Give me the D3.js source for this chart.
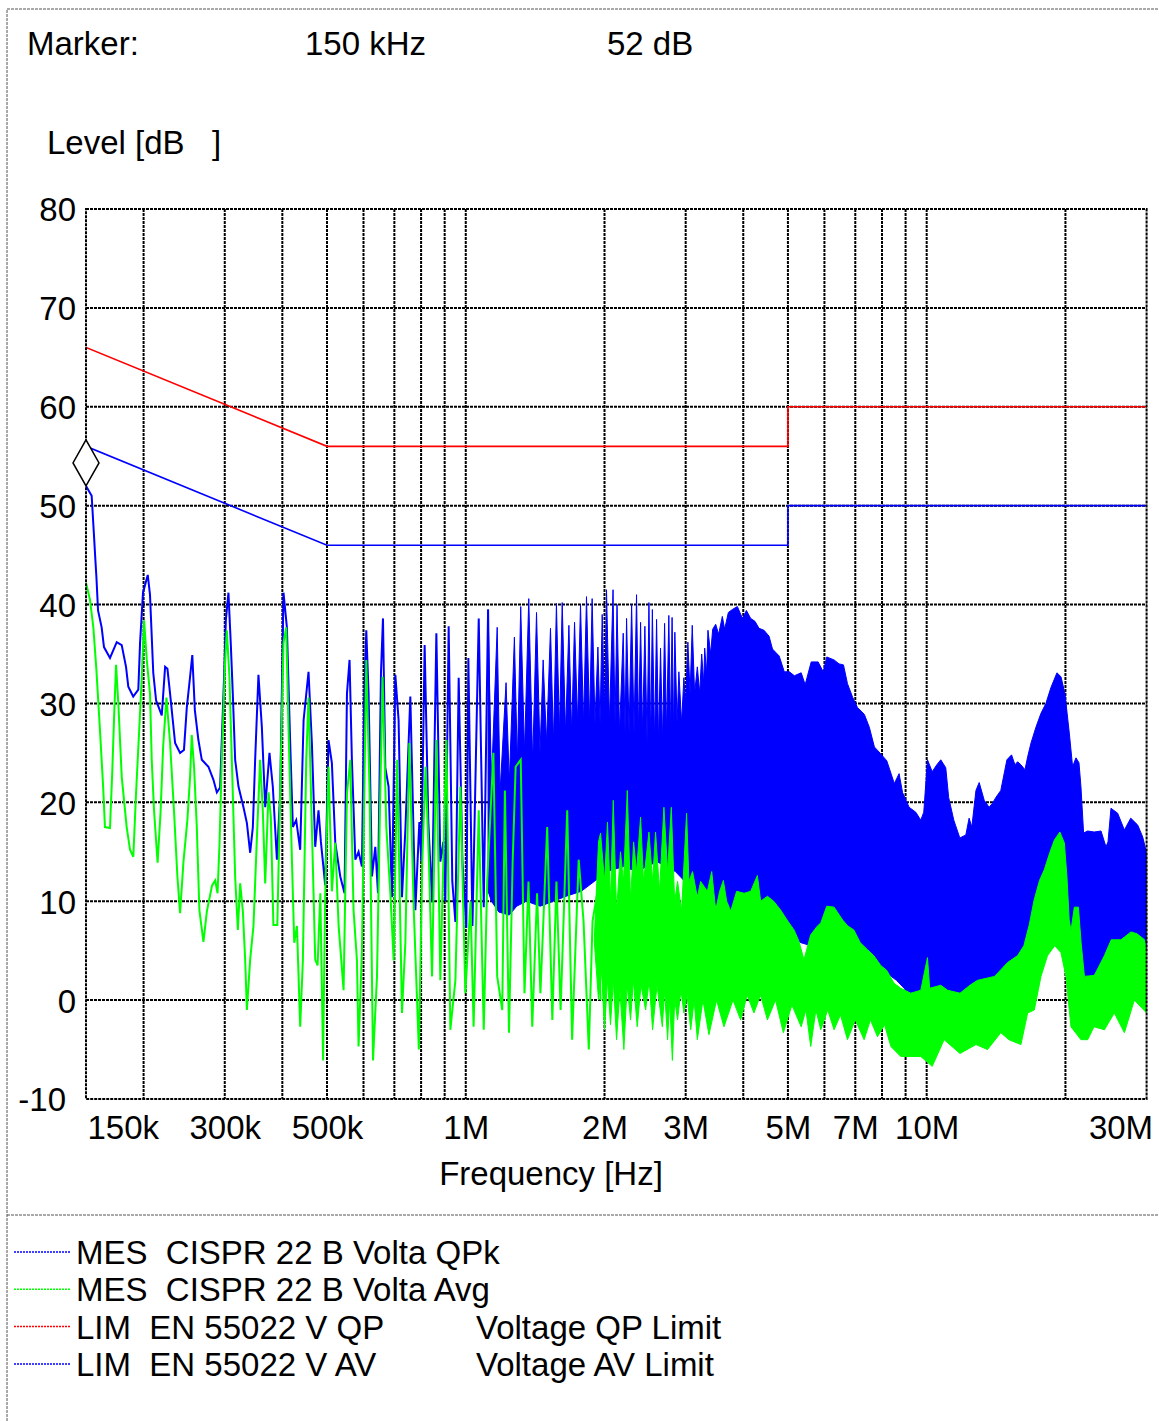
<!DOCTYPE html>
<html>
<head>
<meta charset="utf-8">
<script src="https://cdn.jsdelivr.net/npm/d3@7"></script>
<style>
  body { margin: 0; background: #fff; }
  svg { display: block; font-family: Arial, "Liberation Sans", sans-serif; }
  text { font-size: 33px; fill: #000; white-space: pre; }
  .grid line, .plot-frame { stroke: #000; stroke-width: 2; stroke-dasharray: 3,1; fill: none; }
  .page-frame { stroke: #555; stroke-width: 1; stroke-dasharray: 3,1; fill: none; }
</style>
</head>
<body>
<svg width="1159" height="1421"></svg>
<script>
// marker readout (MHz, dB)
markerFreq = 0.15
markerLevel = 52

// axes
yTicks = [-10, 0, 10, 20, 30, 40, 50, 60, 70, 80]
xTickFreqs = [0.15, 0.3, 0.5, 1, 2, 3, 5, 7, 10, 30]
xTickLabels = ['150k', '300k', '500k', '1M', '2M', '3M', '5M', '7M', '10M', '30M']
gridFreqs = [0.2, 0.3, 0.4, 0.5, 0.6, 0.7, 0.8, 0.9, 1, 2, 3, 4, 5, 6, 7, 8, 9, 10, 20]

// limit lines [MHz, dB]
qpLimit = [[0.15, 66], [0.5, 56], [5, 56], [5, 60], [30, 60]]
avLimit = [[0.15, 56], [0.5, 46], [5, 46], [5, 50], [30, 50]]

// QPk trace, resolved part [MHz, dB]
qpkTrace = [[0.1500,52.0],[0.1543,51.0],[0.1561,47.0],[0.1572,44.5],[0.1580,42.8],[0.1593,39.4],[0.1622,37.7],[0.1641,35.7],[0.1691,34.6],[0.1749,36.2],[0.1793,35.9],[0.1832,33.7],[0.1853,31.7],[0.1899,30.7],[0.1948,31.4],[0.1965,36.1],[0.1994,41.2],[0.2042,43.0],[0.2065,41.0],[0.2099,33.1],[0.2129,30.3],[0.2190,28.8],[0.2227,33.7],[0.2253,33.5],[0.2283,31.0],[0.2341,26.0],[0.2400,25.0],[0.2447,25.3],[0.2482,29.6],[0.2523,32.7],[0.2551,34.9],[0.2584,29.3],[0.2630,26.3],[0.2675,24.3],[0.2765,23.6],[0.2834,22.3],[0.2884,21.0],[0.2931,21.5],[0.2956,26.3],[0.2990,32.7],[0.3016,38.4],[0.3056,41.2],[0.3092,36.0],[0.3123,31.0],[0.3160,24.3],[0.3213,21.6],[0.3294,19.5],[0.3351,17.9],[0.3406,14.9],[0.3452,17.5],[0.3492,24.3],[0.3550,32.9],[0.3611,27.6],[0.3672,19.5],[0.3751,25.0],[0.3814,21.6],[0.3893,14.2],[0.3957,20.9],[0.4023,41.2],[0.4092,37.7],[0.4160,26.0],[0.4216,17.5],[0.4287,18.2],[0.4373,15.2],[0.4448,28.3],[0.4559,33.2],[0.4636,26.0],[0.4714,15.5],[0.4792,19.2],[0.4850,16.0],[0.4956,11.6],[0.5038,26.3],[0.5123,24.0],[0.5211,15.9],[0.5342,12.5],[0.5458,10.8],[0.5524,31.0],[0.5596,34.4],[0.5662,24.3],[0.5760,14.2],[0.5854,15.0],[0.5953,13.5],[0.6023,31.0],[0.6084,37.4],[0.6154,31.0],[0.6259,12.5],[0.6364,15.5],[0.6450,10.8],[0.6547,33.1],[0.6613,38.6],[0.6690,23.5],[0.6801,21.6],[0.6917,10.4],[0.7034,32.9],[0.7150,28.3],[0.7271,10.4],[0.7395,17.2],[0.7581,30.7],[0.7774,9.1],[0.7930,18.0],[0.8010,14.0],[0.8143,35.9],[0.8295,18.0],[0.8450,9.9],[0.8634,37.1],[0.8807,14.0],[0.8940,16.0],[0.9030,10.0],[0.9181,37.8],[0.9350,12.0],[0.9495,7.9],[0.9653,32.6],[0.9835,14.0],[1.003,7.3],[1.013,34.6],[1.034,7.5],[1.067,38.6],[1.094,9.4],[1.118,39.5],[1.137,10.0]]

// QPk trace, dense part: upper and lower envelope [MHz, dB]
qpkUpper = [[1.118,39.5],[1.137,22],[1.170,37.7],[1.187,21],[1.223,32.1],[1.243,22],[1.275,36.7],[1.294,24],[1.316,39.8],[1.341,25],[1.370,40.6],[1.397,24],[1.424,39.2],[1.449,25],[1.472,34.4],[1.497,26],[1.527,37.6],[1.550,26],[1.573,40.1],[1.597,27],[1.619,40.2],[1.646,27],[1.674,37.9],[1.697,27],[1.722,38.2],[1.748,28],[1.774,40.0],[1.801,28],[1.828,40.8],[1.856,28],[1.880,40.6],[1.907,28],[1.935,35.7],[1.956,28],[1.977,39.0],[2.000,29],[2.020,41.5],[2.050,28],[2.087,41.5],[2.108,28],[2.129,40.0],[2.156,27],[2.196,37.1],[2.216,27],[2.233,38.6],[2.261,27],[2.290,40.0],[2.318,27],[2.347,41.0],[2.371,27],[2.395,38.2],[2.419,27],[2.447,37.8],[2.474,26],[2.497,40.2],[2.519,26],[2.540,39.5],[2.569,26],[2.594,38.5],[2.620,26],[2.646,35.6],[2.673,26],[2.700,38.1],[2.727,27],[2.758,38.9],[2.782,27],[2.803,38.7],[2.824,27],[2.842,37.2],[2.874,28],[2.900,33.2],[2.939,28],[2.973,32.6],[2.999,30],[3.033,36.2],[3.067,31],[3.100,37.9],[3.137,31],[3.180,33.7],[3.218,31],[3.250,35.0],[3.283,32],[3.299,35.6],[3.331,33],[3.353,37.4],[3.399,35],[3.433,37.5],[3.485,38.0],[3.537,37.0],[3.603,38.8],[3.645,37.5],[3.713,39.2],[3.788,39.5],[3.884,39.8],[3.983,38.6],[4.063,39.4],[4.151,38.6],[4.241,38.3],[4.327,37.6],[4.437,37.4],[4.550,36.8],[4.629,35.5],[4.786,34.8],[4.910,33.2],[5.036,33.2],[5.164,32.8],[5.342,33.1],[5.450,31.9],[5.616,34.2],[5.814,34.2],[5.964,33.2],[6.070,34.7],[6.296,34.4],[6.455,34.0],[6.599,33.9],[6.732,32.0],[6.911,30.6],[7.076,29.6],[7.323,28.9],[7.508,27.6],[7.701,25.6],[7.951,24.9],[8.193,24.2],[8.507,21.9],[8.713,22.9],[8.863,21.0],[9.159,19.5],[9.471,19.0],[9.709,18.2],[9.855,19.0],[10.04,24.3],[10.28,23.1],[10.52,23.8],[10.73,24.3],[11.00,23.5],[11.16,20.5],[11.45,18.2],[11.80,16.4],[12.16,16.7],[12.36,18.4],[12.53,17.5],[12.79,21.2],[13.00,22.0],[13.33,20.2],[13.66,19.5],[13.89,19.9],[14.13,20.5],[14.48,21.2],[14.93,24.3],[15.28,24.8],[15.54,23.8],[15.75,24.1],[16.01,23.8],[16.34,23.3],[16.56,24.6],[16.84,26.0],[17.26,27.6],[17.70,29.0],[18.14,30.0],[18.60,31.6],[19.17,33.1],[19.56,32.7],[19.95,31.0],[20.39,27.0],[20.73,23.6],[21.08,24.5],[21.40,24.0],[21.61,21.6],[21.90,16.9],[22.35,17.1],[23.09,17.0],[23.89,17.1],[24.49,15.5],[24.74,16.0],[25.11,19.4],[25.96,18.9],[26.85,17.2],[27.72,18.4],[28.70,17.7],[29.42,16.5],[30.0,14.9]]
qpkLower = [[1.118,11],[1.137,10],[1.180,8.9],[1.243,8.6],[1.290,9.5],[1.354,10],[1.450,9.5],[1.550,10],[1.650,10.5],[1.780,11],[1.900,12],[2.020,13],[2.200,13.5],[2.350,13],[2.600,14],[2.850,13],[3.160,10.8],[3.600,9.1],[4.500,7.6],[5.340,5.8],[6.300,4.8],[7.420,4.2],[8.600,2.0],[9.150,0.7],[11.60,0.3],[13.90,1.3],[15.30,3.4],[16.56,5.8],[17.35,8.0],[18.60,9.0],[19.56,9.0],[20.40,8.0],[21.00,4.0],[21.90,2.4],[23.10,2.5],[25.10,4.8],[27.20,6.3],[30.0,5.0]]

// Avg trace, resolved part [MHz, dB]
avgTrace = [[0.1500,42.2],[0.1530,40.5],[0.1556,37.7],[0.1580,33.4],[0.1607,27.6],[0.1634,21.6],[0.1649,17.5],[0.1691,17.4],[0.1710,23.0],[0.1728,29.3],[0.1743,33.9],[0.1763,30.0],[0.1793,22.6],[0.1838,17.5],[0.1869,15.2],[0.1900,14.5],[0.1926,20.9],[0.1958,27.6],[0.1982,32.7],[0.2005,38.4],[0.2032,34.4],[0.2065,31.0],[0.2083,24.3],[0.2107,19.2],[0.2145,13.9],[0.2177,19.0],[0.2205,25.6],[0.2242,30.6],[0.2283,26.0],[0.2329,19.0],[0.2368,12.5],[0.2400,8.8],[0.2441,14.0],[0.2489,18.2],[0.2523,22.6],[0.2544,26.8],[0.2574,23.5],[0.2609,17.5],[0.2643,9.1],[0.2697,5.9],[0.2744,9.0],[0.2816,11.6],[0.2860,12.1],[0.2894,10.8],[0.2923,15.9],[0.2956,24.3],[0.3006,34.4],[0.3031,37.4],[0.3071,32.7],[0.3123,20.9],[0.3160,12.5],[0.3203,7.1],[0.3240,11.8],[0.3284,9.0],[0.3322,4.1],[0.3351,-1.0],[0.3406,4.1],[0.3463,7.5],[0.3519,15.9],[0.3580,24.3],[0.3628,19.2],[0.3672,11.8],[0.3733,21.0],[0.3777,18.5],[0.3825,7.6],[0.3901,7.6],[0.3957,20.9],[0.4023,36.1],[0.4078,37.7],[0.4125,27.6],[0.4196,14.2],[0.4245,5.8],[0.4303,7.5],[0.4373,-2.7],[0.4432,4.0],[0.4507,24.3],[0.4559,30.6],[0.4636,17.5],[0.4714,4.1],[0.4770,3.5],[0.4836,10.8],[0.4903,-6.1],[0.4956,10.8],[0.5038,23.6],[0.5123,11.0],[0.5211,15.9],[0.5299,7.5],[0.5432,1.0],[0.5524,20.9],[0.5616,24.3],[0.5709,9.1],[0.5807,4.0],[0.5854,-4.7],[0.5953,5.0],[0.6084,34.4],[0.6186,20.9],[0.6292,-6.1],[0.6418,2.4],[0.6524,20.9],[0.6600,32.7],[0.6724,17.5],[0.6861,10.8],[0.6976,4.0],[0.7100,24.3],[0.7271,-1.3],[0.7395,5.8],[0.7545,26.0],[0.7713,9.1],[0.7911,-5.0],[0.8047,14.0],[0.8181,23.6],[0.8320,14.0],[0.8450,2.4],[0.8634,26.3],[0.8807,2.0],[0.9077,26.3],[0.9259,-3.0],[0.9495,2.0],[0.9735,21.6],[0.9980,0.7],[1.024,10.0],[1.040,-2.7],[1.067,19.2],[1.094,-3.0],[1.113,12.0],[1.148,25.0],[1.170,2.4],[1.200,-1.0],[1.216,21.2],[1.241,-3.3],[1.264,14.0],[1.283,23.6],[1.316,24.3],[1.341,0.7],[1.368,12.0],[1.394,-2.7],[1.428,10.8],[1.452,0.7],[1.502,17.5],[1.541,-2.0],[1.573,12.0],[1.606,-1.0],[1.660,19.2],[1.701,-4.0],[1.758,14.2],[1.801,8.0],[1.849,-5.0],[1.884,8.0],[1.928,10.8],[1.961,0.0]]

// Avg trace, dense part: upper and lower envelope [MHz, dB]
avgUpper = [[1.900,6],[1.941,16],[1.961,16.9],[2.000,12],[2.030,18],[2.061,10],[2.089,20.2],[2.124,9],[2.166,15],[2.199,12],[2.241,21.2],[2.278,10],[2.313,16],[2.347,13],[2.395,18.5],[2.431,12],[2.497,17],[2.543,12],[2.581,17],[2.633,11],[2.691,19.5],[2.741,13],[2.792,19.5],[2.839,10],[2.881,12],[2.939,9],[3.014,18.9],[3.049,12],[3.105,13],[3.180,10.4],[3.233,12],[3.343,11],[3.417,13],[3.485,9.1],[3.555,11],[3.621,12.1],[3.682,10],[3.757,9],[3.870,11],[4.016,10.8],[4.151,11],[4.292,12.6],[4.363,10],[4.513,10.5],[4.656,10],[4.822,9.1],[4.995,8],[5.155,7.1],[5.278,6],[5.417,4.1],[5.603,6.6],[5.794,7.5],[5.891,7.8],[6.070,9.5],[6.296,9.4],[6.571,8.1],[6.742,7.5],[6.949,7.1],[7.178,5.8],[7.440,5.1],[7.676,4.5],[7.951,3.5],[8.193,3],[8.496,1.7],[8.786,1.2],[9.236,0.7],[9.710,1],[10.04,4.3],[10.15,1.2],[10.73,1.5],[11.10,1],[11.81,0.7],[12.41,1.5],[12.89,2.0],[14.04,2.4],[14.98,3.8],[15.75,4.5],[16.25,5.5],[16.69,7.6],[17.10,10.1],[17.57,12.1],[18.00,13.2],[18.49,14.9],[18.93,16.2],[19.45,17],[19.89,15.9],[20.15,12.5],[20.38,8.1],[20.56,7],[20.91,9.4],[21.34,9.4],[21.63,5.8],[21.99,2.4],[23.10,2.5],[24.30,4.5],[25.14,6.1],[26.40,6.1],[27.75,6.9],[28.60,6.7],[29.70,6.1],[30.0,4.8]]
avgLower = [[1.900,6],[1.941,0],[1.970,3],[2.000,-3],[2.030,2],[2.061,-2.5],[2.090,2],[2.124,-4],[2.160,1],[2.203,-5],[2.240,1.5],[2.278,-2],[2.310,2],[2.355,-2.7],[2.400,1.5],[2.456,-1],[2.500,2],[2.543,-3],[2.600,1.5],[2.670,-2.7],[2.700,1],[2.741,-4],[2.770,0],[2.807,-6.1],[2.840,0],[2.881,-2],[2.930,1],[2.973,-1.3],[3.020,0.5],[3.077,-3],[3.130,0],[3.180,-4],[3.270,0],[3.370,-3.5],[3.500,0],[3.632,-2.7],[3.800,0],[3.948,-2],[4.080,0.5],[4.219,-1.3],[4.360,0.5],[4.513,-2],[4.700,0],[4.887,-3.3],[5.100,-0.5],[5.342,-2.7],[5.470,-1],[5.603,-4.7],[5.750,-1],[5.891,-3],[6.100,-1],[6.296,-3],[6.500,-1.5],[6.732,-4],[7.000,-2],[7.316,-4],[7.550,-2],[7.821,-3.7],[8.100,-2.5],[8.364,-4.7],[8.786,-5.7],[9.236,-5.7],[9.710,-5.7],[10.28,-6.7],[10.91,-4.0],[11.81,-5.4],[12.79,-4.5],[13.55,-5],[14.48,-3.3],[15.08,-4],[16.01,-4.5],[16.56,-1.3],[17.12,-1],[17.70,2.4],[18.29,4.5],[18.96,5.5],[19.56,4.8],[20.05,2.4],[20.56,-2.7],[21.61,-4],[22.35,-4],[23.07,-2.7],[24.30,-3],[25.53,-1.3],[26.85,-3.3],[28.22,0],[30.0,-1.3]]

legendNames = ['MES  CISPR 22 B Volta QPk', 'MES  CISPR 22 B Volta Avg', 'LIM  EN 55022 V QP', 'LIM  EN 55022 V AV']
legendNotes = ['', '', 'Voltage QP Limit', 'Voltage AV Limit']
legendColors = ['#0000ff', '#00ff00', '#ff0000', '#0000ff']

X_LEFT = 86
X_RIGHT = 1146.6
Y_TOP = 209
Y_BOTTOM = 1099
BLUE = '#0000ff'
GREEN = '#00ff00'
RED = '#ff0000'
FONT = 'Arial, "Liberation Sans", sans-serif'

x = d3.scaleLog().domain([0.15, 30]).range([X_LEFT, X_RIGHT])
y = d3.scaleLinear().domain([-10, 80]).range([Y_BOTTOM, Y_TOP])
line = d3.line().x(function (d) { return x(d[0]); }).y(function (d) { return y(d[1]); })

// closed outline between an upper and a lower envelope
function band(upper, lower) {
  return line(upper.concat(lower.slice().reverse())) + 'Z';
}

svg = d3.select('svg')

// page frame and separator
svg.append('path').attr('class', 'page-frame').attr('d', 'M7,1421V9H1159')
svg.append('line').attr('class', 'page-frame')
  .attr('x1', 7).attr('x2', 1159).attr('y1', 1215).attr('y2', 1215)

// marker readout
svg.append('text').attr('x', 27).attr('y', 55).text('Marker:')
svg.append('text').attr('x', 305).attr('y', 55).text(markerFreq * 1000 + ' kHz')
svg.append('text').attr('x', 607).attr('y', 55).text(markerLevel + ' dB')
svg.append('text').attr('x', 47).attr('y', 154).text('Level [dB   ]')

svg.append('clipPath').attr('id', 'plot-clip')
  .append('rect').attr('x', X_LEFT).attr('y', Y_TOP)
  .attr('width', X_RIGHT - X_LEFT).attr('height', Y_BOTTOM - Y_TOP)

// grid
grid = svg.append('g').attr('class', 'grid')
grid.selectAll('.vg').data(gridFreqs).enter().append('line')
  .attr('x1', function (d) { return x(d); }).attr('x2', function (d) { return x(d); })
  .attr('y1', Y_TOP).attr('y2', Y_BOTTOM)
grid.selectAll('.hg').data(yTicks.slice(1, -1)).enter().append('line')
  .attr('x1', X_LEFT).attr('x2', X_RIGHT)
  .attr('y1', function (d) { return y(d); }).attr('y2', function (d) { return y(d); })

plot = svg.append('g').attr('clip-path', 'url(#plot-clip)')

// QPk
plot.append('path').attr('d', band(qpkUpper, qpkLower))
  .attr('fill', BLUE).attr('stroke', BLUE).attr('stroke-width', 1)
plot.append('path').attr('d', line(qpkTrace))
  .attr('fill', 'none').attr('stroke', BLUE).attr('stroke-width', 2)

// Avg
plot.append('path').attr('d', band(avgUpper, avgLower))
  .attr('fill', GREEN).attr('stroke', GREEN).attr('stroke-width', 1)
plot.append('path').attr('d', line(avgTrace))
  .attr('fill', 'none').attr('stroke', GREEN).attr('stroke-width', 2)

// limits
plot.append('path').attr('d', line(qpLimit))
  .attr('fill', 'none').attr('stroke', RED).attr('stroke-width', 1.6)
plot.append('path').attr('d', line(avLimit))
  .attr('fill', 'none').attr('stroke', BLUE).attr('stroke-width', 1.6)

svg.append('rect').attr('class', 'plot-frame')
  .attr('x', X_LEFT).attr('y', Y_TOP)
  .attr('width', X_RIGHT - X_LEFT).attr('height', Y_BOTTOM - Y_TOP)

// marker diamond, lower tip on the marker level
mx = x(markerFreq)
my = y(markerLevel)
svg.append('path')
  .attr('d', 'M' + mx + ',' + my + 'L' + (mx + 13) + ',' + (my - 23) + 'L' + mx + ',' + (my - 46) + 'L' + (mx - 13) + ',' + (my - 23) + 'Z')
  .attr('fill', '#fff').attr('stroke', '#000').attr('stroke-width', 1.5)

// axes
xAxis = svg.append('g').attr('transform', 'translate(0,' + Y_BOTTOM + ')')
  .call(d3.axisBottom(x).tickValues(xTickFreqs)
    .tickFormat(function (d, i) { return xTickLabels[i]; }).tickSize(0))
xAxis.select('.domain').remove()
xAxis.selectAll('text')
  .attr('y', 40).attr('dy', null)
  .attr('font-size', 33).attr('font-family', FONT)
  .attr('text-anchor', function (d, i) { return i == 0 ? 'start' : (i == xTickFreqs.length - 1 ? 'end' : 'middle'); })
  .attr('dx', function (d, i) { return i == 0 ? 1 : (i == xTickFreqs.length - 1 ? 6 : 0); })

yAxis = svg.append('g').attr('transform', 'translate(' + X_LEFT + ',0)')
  .call(d3.axisLeft(y).tickValues(yTicks).tickSize(0)
    .tickFormat(function (d) { return String(d); }))
yAxis.select('.domain').remove()
yAxis.selectAll('text')
  .attr('x', function (d) { return d < 0 ? -20 : -10; })
  .attr('dy', '0.36em')
  .attr('font-size', 33).attr('font-family', FONT)

svg.append('text').attr('x', 551).attr('y', 1185).attr('text-anchor', 'middle').text('Frequency [Hz]')

// legend
legend = svg.selectAll('.legend').data(legendNames).enter().append('g')
  .attr('transform', function (d, i) { return 'translate(0,' + (1252 + 37.3 * i) + ')'; })
legend.append('line')
  .attr('x1', 14).attr('x2', 70).attr('y1', 0).attr('y2', 0)
  .attr('stroke', function (d, i) { return legendColors[i]; })
  .attr('stroke-width', 1.5).attr('stroke-dasharray', '2,1')
legend.append('text').attr('x', 76).attr('y', 12).text(function (d) { return d; })
legend.append('text').attr('x', 476).attr('y', 12).text(function (d, i) { return legendNotes[i]; })
</script>
</body>
</html>
